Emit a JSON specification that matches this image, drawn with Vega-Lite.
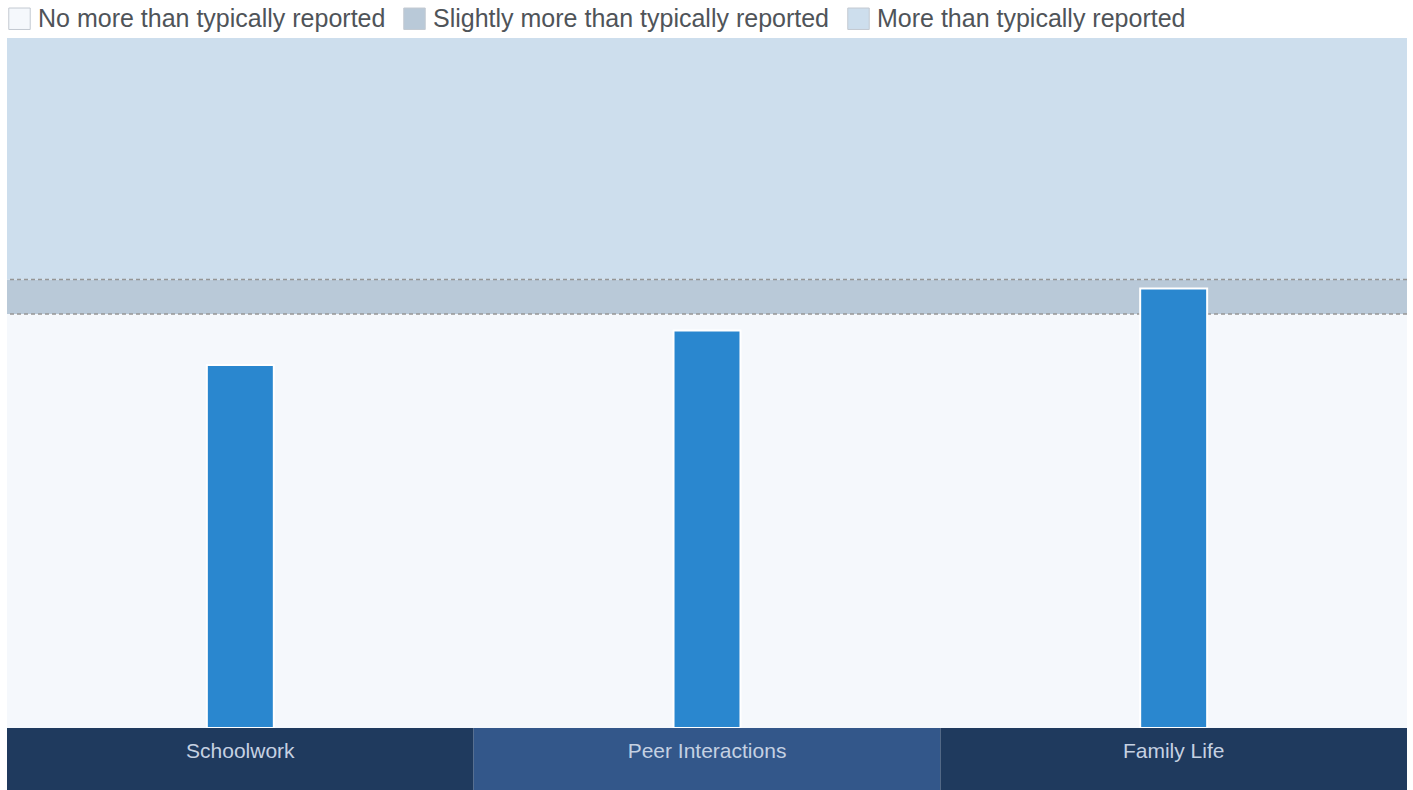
{
  "$schema": "https://vega.github.io/schema/vega-lite/v6.json",
  "width": 1400,
  "height": 752,
  "autosize": {"type": "none"},
  "padding": {"left": 7, "top": 38, "right": 6, "bottom": 0},
  "background": "white",
  "config": {"view": {"stroke": null}},
  "layer": [
    {
      "data": {"values": [
        {"band": "No more than typically reported", "lo": 0, "hi": 60},
        {"band": "Slightly more than typically reported", "lo": 60, "hi": 65},
        {"band": "More than typically reported", "lo": 65, "hi": 100}
      ]},
      "mark": {"type": "rect"},
      "encoding": {
        "y": {"field": "lo", "type": "quantitative", "scale": {"domain": [-9, 100], "nice": false, "zero": false}, "axis": null},
        "y2": {"field": "hi"},
        "fill": {
          "field": "band", "type": "nominal",
          "scale": {
            "domain": ["No more than typically reported", "Slightly more than typically reported", "More than typically reported"],
            "range": ["#f5f8fc", "#b9c9d8", "#cddeed"]
          },
          "legend": {
            "orient": "top", "direction": "horizontal", "title": null,
            "symbolType": "square", "symbolSize": 460,
            "symbolStrokeColor": "#c3c9d1", "symbolStrokeWidth": 1, "symbolOpacity": 1,
            "labelFontSize": 25, "labelFont": "Liberation Sans", "labelColor": "#4f5459",
            "labelOffset": 6, "columnPadding": 15, "offset": 6, "padding": 0, "labelLimit": 0
          }
        }
      }
    },
    {
      "data": {"values": [{"t": 60}, {"t": 65}]},
      "mark": {"type": "rule", "color": "#959595", "strokeWidth": 1.5, "strokeDash": [4, 3]},
      "encoding": {"y": {"field": "t", "type": "quantitative"}}
    },
    {
      "data": {"values": [
        {"category": "Schoolwork", "value": 52.6},
        {"category": "Peer Interactions", "value": 57.6},
        {"category": "Family Life", "value": 63.7}
      ]},
      "layer": [
        {
          "mark": {"type": "bar", "color": "#2a87cf", "stroke": "white", "strokeWidth": 2, "width": {"band": 0.1435}},
          "encoding": {
            "x": {"field": "category", "type": "nominal", "sort": null, "scale": {"paddingInner": 0, "paddingOuter": 0}, "axis": null},
            "y": {"field": "value", "type": "quantitative"},
            "y2": {"datum": 0}
          }
        },
        {
          "mark": {"type": "rect", "stroke": "#6d7a8c", "strokeWidth": 0},
          "encoding": {
            "x": {"field": "category", "type": "nominal", "sort": null},
            "y": {"datum": -9},
            "y2": {"datum": 0},
            "fill": {"condition": {"test": "datum.category === 'Peer Interactions'", "value": "#33578a"}, "value": "#1f3a5e"}
          }
        },
        {
          "mark": {"type": "text", "font": "Liberation Sans", "fontSize": 21, "color": "#c5d1e2", "baseline": "middle", "align": "center"},
          "encoding": {
            "x": {"field": "category", "type": "nominal", "sort": null},
            "y": {"datum": -3.5},
            "text": {"field": "category"}
          }
        }
      ]
    }
  ]
}
